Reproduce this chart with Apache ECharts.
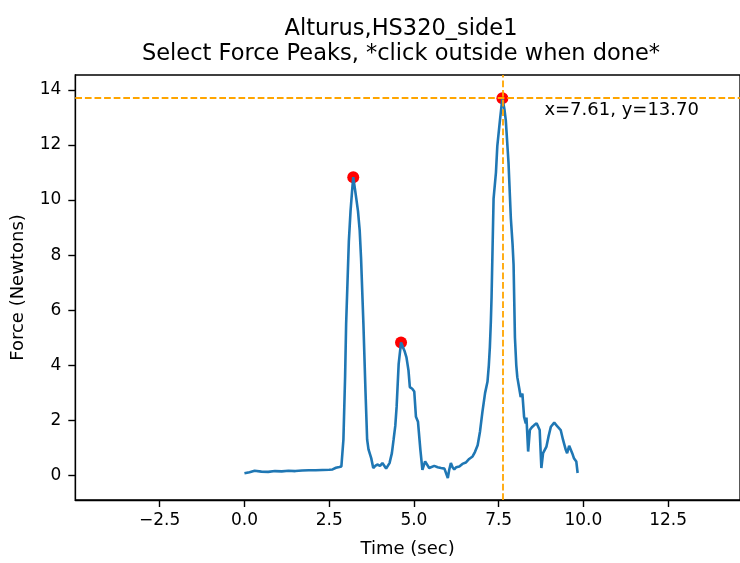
<!DOCTYPE html>
<html>
<head>
<meta charset="utf-8">
<script src="https://cdn.jsdelivr.net/npm/echarts@6/dist/echarts.min.js"></script>
<style>
  html, body { margin: 0; padding: 0; background: #ffffff; }
  #chart { width: 740px; height: 563px; }
</style>
</head>
<body>
<div id="chart"></div>
<script>
// Force trace of the sample (seconds, newtons)
const timeSec = [
  0.00, 0.15, 0.30, 0.35, 0.50, 0.70, 0.90, 1.10, 1.30, 1.50, 1.70, 1.90, 2.10, 2.30, 2.50, 2.60, 2.70, 2.80, 2.86,
  2.92, 2.97, 3.00, 3.04, 3.08, 3.13, 3.18, 3.21,
  3.26, 3.30, 3.35, 3.37, 3.40, 3.44, 3.51, 3.57, 3.62, 3.66, 3.74, 3.80, 3.86, 3.92, 4.00, 4.07, 4.12, 4.18, 4.23, 4.28, 4.35, 4.40,
  4.45, 4.49, 4.55, 4.62, 4.68, 4.72, 4.78, 4.84, 4.88, 4.95, 5.01, 5.06, 5.12, 5.16, 5.19, 5.25, 5.28, 5.33, 5.38, 5.45,
  5.50, 5.60, 5.70, 5.80, 5.90, 5.94, 6.00, 6.04, 6.09, 6.14, 6.19, 6.25, 6.34, 6.43, 6.53, 6.63, 6.73, 6.80, 6.88, 6.95,
  7.02, 7.10, 7.17, 7.21, 7.24, 7.27, 7.29, 7.32, 7.35, 7.42, 7.46, 7.54, 7.61,
  7.67, 7.71, 7.79, 7.86, 7.91, 7.94, 7.98, 8.02, 8.05, 8.10, 8.15, 8.20, 8.25, 8.30, 8.32, 8.37, 8.42, 8.48, 8.55, 8.62,
  8.66, 8.71, 8.76, 8.81, 8.91, 8.97, 9.04, 9.14, 9.24, 9.33, 9.40, 9.48, 9.52, 9.58, 9.62, 9.67, 9.72, 9.79, 9.83
];
const forceN = [
  0.08, 0.12, 0.17, 0.12, 0.14, 0.13, 0.16, 0.15, 0.17, 0.16, 0.18, 0.19, 0.19, 0.20, 0.21, 0.22, 0.28, 0.31, 0.33,
  1.30, 3.60, 5.50, 7.00, 8.50, 9.60, 10.40, 10.83,
  10.40, 10.05, 9.60, 9.60, 8.90, 7.90, 5.50, 3.10, 1.30, 0.95, 0.63, 0.27, 0.35, 0.40, 0.35, 0.45, 0.38, 0.25, 0.35, 0.45, 0.81, 1.30,
  1.80, 2.50, 4.05, 4.83, 4.65, 4.53, 4.29, 3.81, 3.21, 3.15, 3.05, 2.13, 1.95, 1.89, 0.94, 0.20, 0.15, 0.51, 0.45, 0.27,
  0.33, 0.35, 0.30, 0.27, 0.25, 0.22, -0.09, 0.20, 0.45, 0.30, 0.22, 0.30, 0.33, 0.42, 0.47, 0.60, 0.69, 0.85, 1.10, 1.60,
  2.30, 3.00, 3.40, 4.00, 4.65, 5.60, 6.45, 8.25, 10.05, 11.00, 11.96, 12.92, 13.70,
  13.30, 12.90, 11.37, 9.33, 8.40, 7.65, 5.01, 4.00, 3.57, 3.21, 2.85, 2.97, 2.13, 1.89, 2.10, 0.87, 1.65, 1.75, 1.83, 1.90,
  1.89, 1.65, 0.27, 0.81, 1.05, 1.41, 1.77, 1.92, 1.77, 1.65, 1.29, 0.93, 0.81, 1.08, 1.05, 0.81, 0.63, 0.51, 0.09
];

// Peaks picked on the trace
const peakTimes = [3.21, 4.62, 7.61];
const peakForces = [10.83, 4.83, 13.70];

// Axis ticks
const xTicks = [-2.5, 0, 2.5, 5, 7.5, 10, 12.5];
const yTicks = [0, 2, 4, 6, 8, 10, 12, 14];

const titleLines = ['Alturus,HS320_side1', 'Select Force Peaks, *click outside when done*'];

const FONT = 'DejaVu Sans';
const X_MIN = -4.99, X_MAX = 14.62;
const Y_MIN = -0.89, Y_MAX = 14.54;

const lastIdx = peakTimes.length - 1;
const cursor = [peakTimes[lastIdx], peakForces[lastIdx]];

const tracePoints = timeSec.map((t, i) => [t, forceN[i]]);
const peakPoints = peakTimes.map((t, i) => [t, peakForces[i]]);

const fmtX = v => (v < 0 ? '\u2212' : '') + Math.abs(v).toFixed(1);

const spine = { color: '#000', width: 1.3 };
const tickStyle = { color: '#000', width: 1.4 };

const chart = echarts.init(document.getElementById('chart'), null, { renderer: 'canvas' });

chart.setOption({
  animation: false,
  backgroundColor: '#ffffff',
  textStyle: { fontFamily: FONT },
  graphic: [
    {
      type: 'text', x: 401, y: 29, z: 10,
      style: { text: titleLines[0], font: '22.5px "DejaVu Sans"', fill: '#000', align: 'center', verticalAlign: 'middle' }
    },
    {
      type: 'text', x: 401, y: 54, z: 10,
      style: { text: titleLines[1], font: '22.5px "DejaVu Sans"', fill: '#000', align: 'center', verticalAlign: 'middle' }
    }
  ],
  grid: {
    left: 75.3, top: 75, width: 666, height: 429,
    show: true, borderColor: '#000', borderWidth: 1.3, backgroundColor: 'transparent'
  },
  xAxis: {
    type: 'value',
    position: 'bottom',
    min: X_MIN, max: X_MAX,
    name: 'Time (sec)', nameLocation: 'middle', nameGap: 40,
    nameTextStyle: { fontSize: 18, color: '#000', fontFamily: FONT },
    axisLine: { show: true, onZero: false, lineStyle: spine },
    splitLine: { show: false },
    axisTick: { show: true, inside: false, length: 7, customValues: xTicks, lineStyle: tickStyle },
    axisLabel: { customValues: xTicks, formatter: fmtX, fontSize: 17, color: '#000', margin: 12, fontFamily: FONT }
  },
  yAxis: {
    type: 'value',
    position: 'left',
    min: Y_MIN, max: Y_MAX,
    name: 'Force (Newtons)', nameLocation: 'middle', nameGap: 48,
    nameTextStyle: { fontSize: 18, color: '#000', fontFamily: FONT },
    axisLine: { show: true, onZero: false, lineStyle: spine },
    splitLine: { show: false },
    axisTick: { show: true, inside: false, length: 7, customValues: yTicks, lineStyle: tickStyle },
    axisLabel: { customValues: yTicks, formatter: v => String(v), fontSize: 17, color: '#000', margin: 14, fontFamily: FONT }
  },
  series: [
    {
      name: 'peaks', type: 'scatter', z: 1,
      data: peakPoints, symbolSize: 12,
      itemStyle: { color: '#ff0000', opacity: 1 }, silent: true
    },
    {
      name: 'force', type: 'line', z: 2,
      data: tracePoints, showSymbol: false, symbol: 'none',
      lineStyle: { color: '#1f77b4', width: 2.6 }, silent: true
    },
    {
      name: 'cursor', type: 'scatter', z: 3,
      data: [cursor], symbolSize: 0,
      itemStyle: { color: '#000000', opacity: 1 }, silent: true,
      label: {
        show: true, position: 'right', distance: 0, offset: [42, 12],
        formatter: p => 'x=' + p.value[0].toFixed(2) + ', y=' + p.value[1].toFixed(2),
        fontSize: 18, color: '#000000', opacity: 1, fontFamily: FONT
      },
      markLine: {
        silent: true, symbol: 'none',
        label: { show: false },
        lineStyle: { color: '#ffa500', width: 1.8, type: [6.7, 2.9], opacity: 1 },
        data: [{ xAxis: cursor[0] }, { yAxis: cursor[1] }]
      }
    }
  ]
});
</script>
</body>
</html>
